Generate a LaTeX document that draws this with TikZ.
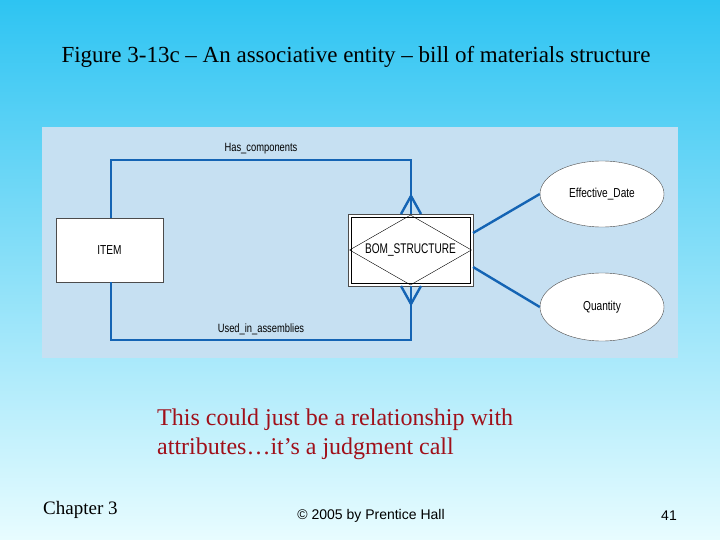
\documentclass[tikz,border=0pt]{standalone}
\usepackage{fontspec}
\setmainfont{Liberation Serif}
\newfontfamily\arial{Liberation Sans}
\usetikzlibrary{shapes.geometric}
\definecolor{topc}{HTML}{2EC4F2}
\definecolor{botc}{HTML}{E8FCFF}
\definecolor{panel}{HTML}{C6E0F2}
\definecolor{conn}{HTML}{1464B4}
\definecolor{red2}{HTML}{A0101A}
\begin{document}
\begin{tikzpicture}[x=1pt,y=-1pt,
  lbl/.style={font=\arial\fontsize{13}{14}\selectfont\addfontfeature{FakeStretch=0.78}},
  cn/.style={draw=conn,line width=2.4pt},
  boxent/.style={draw=black!70,fill=white,line width=0.6pt}]
\shade[top color=topc,bottom color=botc] (0,0) rectangle (720,540);
\useasboundingbox (0,0) rectangle (720,540);
\node[font=\fontsize{23}{26}\selectfont] (title) at (356,57) {Figure 3-13c -- An associative entity -- bill of materials structure};
\fill[panel] (42,127) rectangle (678,358);
\node[boxent,minimum width=107,minimum height=64,lbl] (item) at (109.5,250) {ITEM};
\draw[boxent] (348,214) rectangle (473,286);
\draw[black,line width=0.5pt] (351,217) rectangle (470,283);
\node[draw,diamond,aspect=1.75,inner sep=0pt,minimum width=122,minimum height=70] (bom) at (410.5,250) {};
\node[lbl,font=\arial\fontsize{14}{15}\selectfont\addfontfeature{FakeStretch=0.72}] (bomt) at (410.5,250) {BOM\_STRUCTURE};
\node[ellipse,draw=black!70,fill=white,minimum width=124,minimum height=66,lbl] (ed) at (602,194) {Effective\_Date};
\node[ellipse,draw=black!70,fill=white,minimum width=124,minimum height=68,lbl] (qt) at (602,307) {Quantity};
\coordinate (t1) at (111,160); \coordinate (t2) at (411,160);
\coordinate (b1) at (111,340); \coordinate (b2) at (411,340);
\draw[cn] (item.north -| t1) -- (t1) -- (t2) -- (411,214);
\draw[cn] (item.south -| b1) -- (b1) -- (b2) -- (411,286);
\draw[cn] (401,214) -- (411,196) -- (421,214);
\draw[cn] (401,286) -- (411,304) -- (421,286);
\draw[cn] (473,233) -- (ed.west);
\draw[cn] (473,267) -- (qt.west);
\node[lbl,above,font=\arial\fontsize{12}{13}\selectfont\addfontfeature{FakeStretch=0.78}] (hc) at (261,158) {Has\_components};
\node[lbl,above,font=\arial\fontsize{12}{13}\selectfont\addfontfeature{FakeStretch=0.78}] (ua) at (261,338) {Used\_in\_assemblies};
\node[font=\fontsize{24}{29}\selectfont,text=red2,align=left,anchor=north west,inner sep=0pt] (note) at (157,409) {This could just be a relationship with\\attributes\ldots it's a judgment call};
\node[font=\fontsize{19}{22}\selectfont,anchor=west,inner sep=0pt] (ch) at (43,510) {Chapter 3};
\node[font=\arial\fontsize{14}{16}\selectfont] (cp) at (371,516) {\char"00A9\ 2005 by Prentice Hall};
\node[font=\arial\fontsize{14}{16}\selectfont] (pg) at (669,516) {41};
\end{tikzpicture}
\end{document}
